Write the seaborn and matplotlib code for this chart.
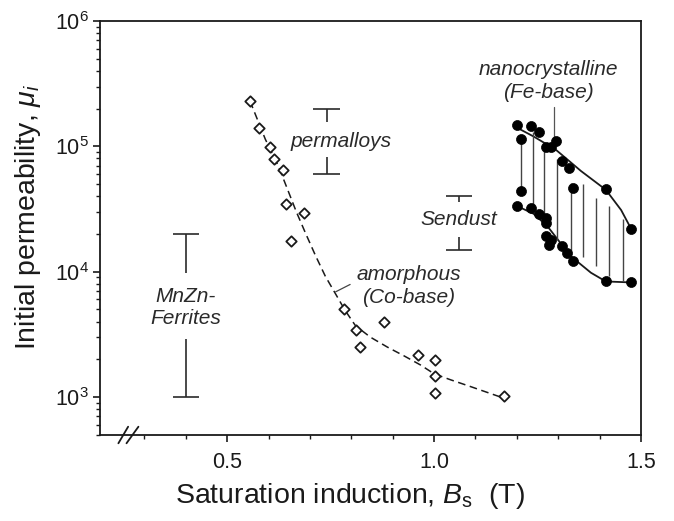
import numpy as np
import matplotlib
matplotlib.use("Agg")
import matplotlib.pyplot as plt
import seaborn as sns
from matplotlib.ticker import FixedLocator, LogLocator, NullFormatter, LogFormatterMathtext

# ---------------- data ----------------
# amorphous (Co-base) alloys: open diamonds
amor_B = [0.554, 0.576, 0.604, 0.612, 0.635, 0.643, 0.685, 0.653, 0.782,
          0.810, 0.880, 0.822, 0.961, 1.001, 1.002, 1.001, 1.169]
amor_mu = [2.30e5, 1.39e5, 9.8e4, 7.9e4, 6.5e4, 3.45e4, 2.95e4, 1.77e4, 5.0e3,
           3.45e3, 4.0e3, 2.5e3, 2.17e3, 1.98e3, 1.47e3, 1.08e3, 1.02e3]

# dashed guide curve through the amorphous data
fit_B = [0.555, 0.592, 0.624, 0.645, 0.667, 0.690, 0.713, 0.737, 0.760, 0.785,
         0.810, 0.846, 0.887, 0.927, 0.967, 1.000, 1.040, 1.088, 1.160]
fit_mu = [2.3e5, 1.14e5, 6.9e4, 4.6e4, 3.0e4, 2.0e4, 1.35e4, 9.2e3, 6.8e3, 4.9e3,
          3.7e3, 3.0e3, 2.5e3, 2.13e3, 1.8e3, 1.53e3, 1.37e3, 1.21e3, 1.0e3]

# nanocrystalline (Fe-base) alloys: filled circles
nano_B = [1.201, 1.234, 1.254, 1.209, 1.270, 1.294, 1.282, 1.310, 1.326, 1.335,
          1.415, 1.476, 1.209, 1.201, 1.234, 1.254, 1.270, 1.270, 1.270, 1.282,
          1.278, 1.310, 1.322, 1.335, 1.415, 1.476]
nano_mu = [1.47e5, 1.45e5, 1.29e5, 1.14e5, 9.95e4, 1.10e5, 9.8e4, 7.6e4, 6.76e4, 4.67e4,
           4.53e4, 2.17e4, 4.38e4, 3.33e4, 3.23e4, 2.86e4, 2.69e4, 2.45e4, 1.92e4, 1.80e4,
           1.64e4, 1.59e4, 1.41e4, 1.21e4, 8.35e3, 8.2e3]

# upper and lower boundary of the nanocrystalline region
nano_up_B = [1.193, 1.240, 1.294, 1.355, 1.415, 1.452, 1.476]
nano_up_mu = [1.45e5, 1.2e5, 9.4e4, 6.35e4, 4.5e4, 3.1e4, 2.2e4]
nano_lo_B = [1.201, 1.240, 1.274, 1.330, 1.379, 1.415, 1.476]
nano_lo_mu = [3.33e4, 2.9e4, 2.3e4, 1.33e4, 9.8e3, 8.35e3, 8.2e3]

# vertical hatching inside the nanocrystalline region
hatch_B = [1.209, 1.238, 1.266, 1.298, 1.330, 1.359, 1.391, 1.423, 1.456]
hatch_top = [1.14e5, 1.29e5, 1.07e5, 7.87e4, 5.13e4, 4.97e4, 3.89e4, 3.33e4, 2.61e4]
hatch_bot = [4.39e4, 3.33e4, 2.61e4, 1.80e4, 1.41e4, 1.32e4, 1.10e4, 9.17e3, 8.35e3]

# range bars: MnZn-Ferrites, permalloys, Sendust
range_names = ["MnZn-\nFerrites", "permalloys", "Sendust"]
range_B = [0.40, 0.74, 1.06]
range_lo = [1.0e3, 6.0e4, 1.5e4]
range_hi = [2.0e4, 2.0e5, 4.0e4]
gap_lo = [2.91e3, 8.17e4, 1.90e4]   # where the lower stem stops (label gap)
gap_hi = [9.8e3, 1.56e5, 3.57e4]    # where the upper stem stops
label_B = [0.40, 0.774, 1.059]
label_mu = [5.2e3, 1.1e5, 2.6e4]
cap_half = 0.032

# labels of the two alloy families
fam_names = ["amorphous\n(Co-base)", "nanocrystalline\n(Fe-base)"]
fam_B = [0.938, 1.276]
fam_mu = [7.7e3, 3.33e5]
# short leader lines from the labels
lead_amor_B = [0.762, 0.797]
lead_amor_mu = [6.9e3, 7.9e3]
lead_nano_B = [1.290, 1.290]
lead_nano_mu = [2.05e5, 1.14e5]

x_major = [0.5, 1.0, 1.5]
x_major_labels = ["0.5", "1.0", "1.5"]
x_minor = [0.3, 0.4, 0.6, 0.7, 0.8, 0.9, 1.1, 1.2, 1.3, 1.4]

# ---------------- style ----------------
sns.set_style("ticks")
plt.rcParams["font.family"] = ["Liberation Sans", "DejaVu Sans"]
plt.rcParams["mathtext.fontset"] = "custom"
plt.rcParams["mathtext.rm"] = "Liberation Sans"
plt.rcParams["mathtext.it"] = "Liberation Sans:italic"
plt.rcParams["mathtext.bf"] = "Liberation Sans:bold"
plt.rcParams["mathtext.default"] = "regular"

fig = plt.figure(figsize=(6.74, 5.21), dpi=100)
ax = fig.add_axes([100 / 674, 86 / 521, 541 / 674, 414 / 521])
ax.set_yscale("log")
ax.set_xlim(0.1925, 1.5)
ax.set_ylim(497, 1e6)

ink = "#1a1a1a"
txt = "#2a2a2a"

# dashed guide curve
sns.lineplot(x=fit_B, y=fit_mu, sort=False, estimator=None, ax=ax,
             color=ink, lw=1.1)
ax.lines[-1].set_dashes([5, 3])

# amorphous diamonds
sns.scatterplot(x=amor_B, y=amor_mu, marker="D", s=28, facecolor="white",
                edgecolor=ink, linewidth=1.3, ax=ax, zorder=4)

# nanocrystalline region
sns.lineplot(x=nano_up_B, y=nano_up_mu, sort=False, estimator=None, ax=ax,
             color=ink, lw=1.3)
sns.lineplot(x=nano_lo_B, y=nano_lo_mu, sort=False, estimator=None, ax=ax,
             color=ink, lw=1.3)
ax.vlines(hatch_B, hatch_bot, hatch_top, color="#444444", lw=1.0)
sns.scatterplot(x=nano_B, y=nano_mu, marker="o", s=52, color="black",
                edgecolor="black", linewidth=0.5, ax=ax, zorder=5)

# range bars
ax.vlines(range_B, range_lo, gap_lo, color=txt, lw=1.2)
ax.vlines(range_B, gap_hi, range_hi, color=txt, lw=1.2)
ax.hlines(range_lo, np.array(range_B) - cap_half, np.array(range_B) + cap_half,
          color=txt, lw=1.2)
ax.hlines(range_hi, np.array(range_B) - cap_half, np.array(range_B) + cap_half,
          color=txt, lw=1.2)
for name, xb, yb in zip(range_names, label_B, label_mu):
    ax.text(xb, yb, name, ha="center", va="center", fontsize=15, style="italic",
            color=txt, linespacing=1.2)

for name, xb, yb in zip(fam_names, fam_B, fam_mu):
    ax.text(xb, yb, name, ha="center", va="center", fontsize=15, style="italic",
            color=txt, linespacing=1.3)
ax.plot(lead_amor_B, lead_amor_mu, color="#444444", lw=0.9)
ax.plot(lead_nano_B, lead_nano_mu, color="#555555", lw=0.9)

# axes, ticks
for sp in ax.spines.values():
    sp.set_linewidth(1.3)
    sp.set_color(ink)
ax.xaxis.set_major_locator(FixedLocator(x_major))
ax.set_xticklabels(x_major_labels)
ax.xaxis.set_minor_locator(FixedLocator(x_minor))
ax.yaxis.set_major_locator(LogLocator(base=10, numticks=10))
ax.yaxis.set_major_formatter(LogFormatterMathtext())
ax.yaxis.set_minor_locator(LogLocator(base=10, subs=np.arange(2, 10), numticks=20))
ax.yaxis.set_minor_formatter(NullFormatter())
ax.tick_params(axis="both", which="major", direction="out", length=5, width=1.2,
               labelsize=15.5, colors=ink)
ax.tick_params(axis="both", which="minor", direction="out", length=3, width=1.0,
               colors=ink)
ax.tick_params(axis="x", which="major", pad=7)
ax.tick_params(axis="y", which="major", pad=3)
ax.tick_params(top=False, right=False, which="both")

ax.set_xlabel(r"Saturation induction, $\mathit{B}_\mathrm{s}$  (T)", fontsize=20.5,
              color=ink)
ax.set_ylabel(r"Initial permeability, $\mathit{\mu}_\mathit{i}$", fontsize=20.5,
              color=ink)
ax.xaxis.set_label_coords(0.462, -0.112)
ax.yaxis.set_label_coords(-0.105, 0.527)

# axis break marks "//"
for x0, x1 in [(0.034, 0.052), (0.049, 0.071)]:
    ax.plot([x0, x1], [-0.02, 0.02], transform=ax.transAxes, color=ink,
            lw=1.3, clip_on=False)

fig.savefig("out.png", dpi=100)
